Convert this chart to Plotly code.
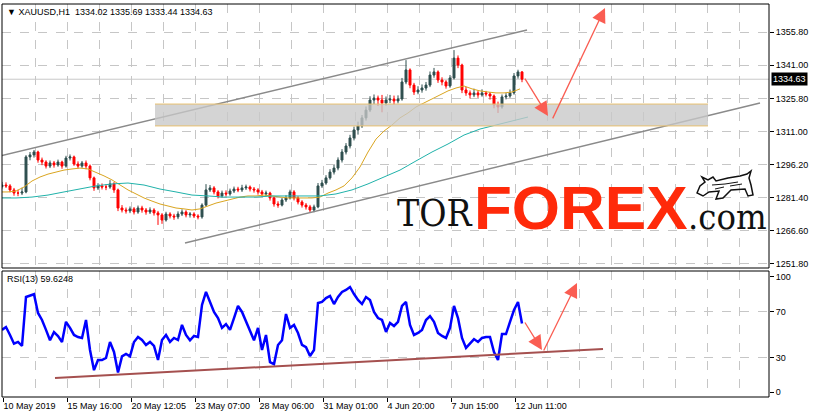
import plotly.graph_objects as go

# ---------------- data ----------------
x_labels = ["10 May 2019", "15 May 16:00", "20 May 12:05", "23 May 07:00", "28 May 06:00",
            "31 May 01:00", "4 Jun 20:00", "7 Jun 15:00", "12 Jun 11:00"]
x_label_bars = [3, 67, 131, 195, 259, 323, 387, 451, 515]

price_ticks = [1251.8, 1266.6, 1281.4, 1296.2, 1311.0, 1325.8, 1341.0, 1355.8]
price_tick_text = ["1251.80", "1266.60", "1281.40", "1296.20", "1311.00", "1325.80", "1341.00", "1355.80"]
rsi_ticks = [0, 30, 70, 100]
rsi_levels = [30, 70]

first_open = 1286.5
close = [1287.2, 1286.8, 1285.0, 1283.6, 1283.6, 1284.1, 1299.8, 1300.7, 1302.0, 1298.4,
         1297.5, 1295.7, 1297.1, 1296.2, 1297.5, 1295.7, 1299.3, 1299.8, 1296.6, 1295.7,
         1297.1, 1295.7, 1290.4, 1285.9, 1286.8, 1286.3, 1286.3, 1287.7, 1285.0, 1276.9,
         1276.0, 1275.6, 1276.5, 1275.1, 1276.9, 1276.0, 1275.1, 1276.0, 1274.7, 1273.8,
         1271.5, 1274.2, 1273.3, 1272.9, 1274.2, 1275.1, 1273.8, 1274.2, 1273.3, 1272.9,
         1278.2, 1285.0, 1285.9, 1284.1, 1282.3, 1283.6, 1283.2, 1284.5, 1285.4, 1285.0,
         1285.9, 1286.3, 1285.4, 1285.0, 1284.1, 1283.2, 1283.6, 1281.4, 1278.7, 1278.2,
         1280.5, 1281.4, 1284.1, 1281.4, 1279.6, 1278.2, 1277.4, 1276.0, 1277.4, 1286.8,
         1288.1, 1290.4, 1293.0, 1294.8, 1298.4, 1302.0, 1304.7, 1308.3, 1311.9, 1313.7,
         1317.3, 1320.8, 1325.3, 1326.2, 1325.3, 1324.0, 1325.3, 1325.8, 1324.9, 1325.8,
         1333.4, 1338.8, 1332.0, 1328.9, 1329.8, 1330.7, 1332.0, 1336.5, 1337.9, 1334.3,
         1333.4, 1331.6, 1335.2, 1344.1, 1341.0, 1329.8, 1328.5, 1327.6, 1328.5, 1327.6,
         1328.5, 1328.0, 1327.1, 1323.1, 1322.2, 1326.7, 1327.1, 1328.5, 1336.1, 1337.9,
         1334.63]
high = [1288.6, 1288.4, 1287.6, 1285.9, 1285.1, 1286.0, 1300.6, 1302.0, 1302.9, 1302.6,
        1299.5, 1298.3, 1298.2, 1298.0, 1298.6, 1298.1, 1300.3, 1300.9, 1300.4, 1297.8,
        1298.0, 1298.2, 1296.4, 1291.0, 1288.0, 1287.9, 1287.6, 1289.4, 1288.5, 1285.6,
        1278.2, 1277.1, 1277.6, 1277.3, 1278.0, 1277.9, 1276.9, 1277.2, 1276.8, 1275.6,
        1274.6, 1275.2, 1275.0, 1274.3, 1275.4, 1276.3, 1275.9, 1275.1, 1275.0, 1274.1,
        1279.0, 1287.6, 1287.2, 1286.7, 1284.9, 1284.7, 1284.8, 1285.6, 1286.5, 1286.4,
        1287.3, 1287.4, 1287.0, 1286.3, 1285.8, 1285.0, 1284.7, 1284.2, 1282.0, 1279.9,
        1281.6, 1282.6, 1285.1, 1284.9, 1282.2, 1280.4, 1279.1, 1278.3, 1278.4, 1288.1,
        1289.5, 1291.6, 1294.3, 1296.2, 1299.6, 1303.3, 1306.0, 1309.7, 1313.4, 1315.6,
        1318.6, 1322.4, 1327.0, 1327.8, 1327.3, 1327.6, 1326.9, 1327.6, 1327.3, 1327.4,
        1335.2, 1343.2, 1339.5, 1333.0, 1331.5, 1332.3, 1333.4, 1338.1, 1339.7, 1338.6,
        1335.5, 1334.2, 1336.5, 1347.7, 1345.3, 1341.6, 1331.2, 1329.6, 1330.4, 1329.7,
        1330.1, 1329.4, 1328.9, 1327.8, 1324.6, 1327.8, 1328.4, 1330.0, 1337.4, 1338.9,
        1338.3]
low = [1285.6, 1285.9, 1283.9, 1282.4, 1282.2, 1282.7, 1283.5, 1298.3, 1299.5, 1297.2,
       1296.1, 1294.6, 1294.8, 1295.0, 1295.4, 1294.5, 1295.0, 1298.2, 1295.8, 1294.6,
       1294.9, 1294.3, 1289.3, 1284.6, 1285.0, 1285.2, 1284.9, 1285.5, 1283.7, 1275.5,
       1274.9, 1274.4, 1274.6, 1274.0, 1274.3, 1274.8, 1273.9, 1274.2, 1273.5, 1269.3,
       1269.8, 1270.8, 1272.2, 1271.6, 1271.9, 1273.3, 1272.7, 1272.6, 1272.4, 1271.8,
       1272.1, 1277.5, 1284.1, 1283.0, 1281.2, 1281.6, 1282.0, 1282.4, 1283.6, 1284.0,
       1284.1, 1285.0, 1284.3, 1283.8, 1282.9, 1282.0, 1282.1, 1280.2, 1277.5, 1277.0,
       1277.6, 1279.6, 1280.7, 1280.3, 1278.5, 1277.1, 1276.2, 1275.0, 1275.0, 1276.8,
       1285.9, 1287.3, 1289.6, 1291.9, 1293.8, 1297.3, 1300.9, 1303.6, 1307.2, 1309.8,
       1312.8, 1316.1, 1319.9, 1323.5, 1322.6, 1319.8, 1322.8, 1323.9, 1323.2, 1323.8,
       1325.0, 1332.4, 1330.6, 1327.6, 1327.9, 1328.6, 1329.5, 1331.1, 1335.3, 1333.0,
       1331.9, 1330.4, 1330.8, 1334.5, 1339.6, 1328.4, 1327.2, 1326.0, 1326.6, 1326.3,
       1326.8, 1326.9, 1325.5, 1321.6, 1319.5, 1321.4, 1325.6, 1326.3, 1327.7, 1334.9,
       1333.3]

ma_fast_bars = [0, 8, 16, 24, 32, 40, 48, 56, 64, 72, 80, 88, 96, 104, 112, 120, 128, 136, 144, 152,
                160, 168, 176, 184, 192, 200, 208, 216, 224, 232, 240, 248, 256, 264, 272, 280, 288,
                296, 304, 312, 320, 328, 336, 344, 352, 360, 368, 376, 384, 392, 400, 408, 416, 424,
                432, 440, 448, 456, 464, 472, 480, 488, 496, 504, 512, 520]
ma_fast = [1284.1, 1284.1, 1284.5, 1286.3, 1289.0, 1290.8, 1292.1, 1293.0, 1293.9, 1294.4, 1294.8,
           1294.4, 1293.0, 1291.3, 1289.5, 1287.2, 1285.0, 1283.2, 1281.4, 1280.0, 1278.7, 1277.8,
           1276.9, 1276.5, 1276.0, 1276.5, 1277.8, 1279.1, 1280.0, 1280.9, 1281.8, 1282.3, 1282.3,
           1282.7, 1282.3, 1281.8, 1281.4, 1281.4, 1281.4, 1281.4, 1281.8, 1283.6, 1285.0, 1286.8,
           1290.4, 1295.3, 1302.0, 1307.8, 1311.4, 1314.1, 1317.3, 1319.5, 1322.2, 1324.0, 1325.8,
           1327.6, 1329.4, 1330.7, 1331.6, 1330.3, 1329.4, 1328.9, 1328.5, 1328.5, 1328.9, 1330.3]

ma_slow_bars = [0, 16, 32, 48, 64, 80, 96, 112, 128, 144, 160, 176, 192, 208, 224, 240, 256, 272,
                288, 304, 320, 336, 352, 368, 384, 400, 416, 432, 448, 464, 480, 496, 512, 528]
ma_slow = [1281.4, 1281.4, 1281.8, 1282.7, 1284.1, 1285.4, 1286.8, 1287.7, 1288.1, 1287.2, 1285.4,
           1284.1, 1282.7, 1282.3, 1281.8, 1281.8, 1281.8, 1282.3, 1282.3, 1282.3, 1282.3, 1283.2,
           1285.0, 1287.7, 1290.8, 1293.9, 1298.0, 1302.0, 1305.6, 1309.6, 1312.3, 1314.1, 1315.9,
           1317.7]

rsi = [54.0, 56.5, 49.6, 42.0, 43.5, 40.0, 82.6, 83.5, 85.0, 68.7, 62.6, 54.0, 45.0, 52.0, 48.7,
       43.5, 61.0, 55.7, 49.6, 47.8, 47.0, 62.6, 36.5, 19.0, 27.8, 27.8, 29.6, 43.5, 34.8, 17.0,
       31.0, 33.0, 31.0, 43.5, 47.8, 45.2, 40.9, 43.5, 40.0, 27.8, 45.2, 49.6, 43.5, 47.0, 45.2,
       58.3, 49.6, 45.0, 48.7, 47.8, 75.7, 87.0, 77.4, 69.6, 64.3, 55.7, 59.0, 54.0, 64.3, 74.8,
       69.6, 61.0, 54.0, 45.0, 55.7, 36.5, 49.6, 26.0, 24.3, 40.9, 45.0, 67.8, 55.7, 58.3, 51.3,
       40.9, 39.0, 31.3, 36.5, 77.4, 78.3, 81.7, 83.5, 76.5, 82.6, 87.0, 88.7, 91.3, 85.2, 80.0,
       76.5, 82.6, 80.0, 69.6, 64.3, 62.6, 52.2, 60.0, 57.4, 61.0, 74.8, 78.3, 58.3, 49.6, 51.3,
       53.9, 62.6, 66.0, 61.0, 51.3, 48.7, 47.0, 55.7, 74.8, 64.3, 47.0, 38.3, 41.7, 46.0, 43.5,
       47.0, 47.8, 47.8, 34.8, 27.8, 50.4, 50.4, 61.0, 71.3, 78.3, 59.62]

# drawn analysis objects (bar position, value)
upper_channel = [(0, 1300.2), (527, 1356.7)]
lower_channel = [(185, 1261.2), (760, 1324.0)]
zone_bars = [155, 708]
zone_prices = [1313.7, 1323.5]
forecast_price = [(524, 1335.6), (548, 1318.1), (552, 1316.4), (605, 1366.6)]
rsi_trend = [(55, 12.2), (603, 37.4)]
forecast_rsi = [(524, 61.7), (542, 36.5), (543, 34.8), (577, 94.8)]
last_price = 1334.63
header = "▼ XAUUSD,H1  1334.02 1335.69 1333.44 1334.63"
rsi_label = "RSI(13) 59.6248"

# ---------------- figure ----------------
bar_x = [4 * i + 2 for i in range(len(close))]
opens = [first_open] + close[:-1]

Y_TOP, Y_BOT = 1368.36, 1250.0
R_TOP, R_BOT = 105.2, -4.35
def py(ypix):  # pixel row in top panel -> price
    return Y_TOP - (ypix - 4) * (Y_TOP - Y_BOT) / 264.0

FONT = "Liberation Sans, Arial, sans-serif"
GRID = "#c6c6c6"

fig = go.Figure()
fig.add_trace(go.Candlestick(
    x=bar_x, open=opens, high=high, low=low, close=close,
    increasing=dict(line=dict(color="#2f4f4f", width=1), fillcolor="#2f4f4f"),
    decreasing=dict(line=dict(color="#ff0000", width=1), fillcolor="#ff0000"),
    whiskerwidth=0, xaxis="x", yaxis="y", hoverinfo="skip", showlegend=False))
fig.add_trace(go.Scatter(x=ma_fast_bars, y=ma_fast, mode="lines",
                         line=dict(color="#daa520", width=1), xaxis="x", yaxis="y"))
fig.add_trace(go.Scatter(x=ma_slow_bars, y=ma_slow, mode="lines",
                         line=dict(color="#20b2aa", width=1), xaxis="x", yaxis="y"))
fig.add_trace(go.Scatter(x=bar_x, y=rsi, mode="lines",
                         line=dict(color="#0000ff", width=2.5), xaxis="x", yaxis="y2"))

minor_grid = [v for v in range(3, 770, 32) if v not in x_label_bars]

fig.update_layout(
    width=815, height=419, margin=dict(l=2, r=46, t=4, b=22),
    paper_bgcolor="white", plot_bgcolor="white", showlegend=False,
    font=dict(family=FONT, size=9, color="black"),
    xaxis=dict(range=[2, 769], domain=[0, 1], anchor="y2",
               tickmode="array", tickvals=x_label_bars, ticktext=x_labels,
               ticks="outside", ticklen=4, tickcolor="black", ticklabelposition="outside right",
               showgrid=True, gridcolor=GRID, griddash="dash", gridwidth=1,
               minor=dict(tickmode="array", tickvals=minor_grid, showgrid=True,
                          gridcolor=GRID, griddash="dash", ticks=""),
               rangeslider=dict(visible=False), zeroline=False, showline=False,
               tickfont=dict(family=FONT, size=9, color="black")),
    yaxis=dict(domain=[129 / 393, 1], range=[Y_BOT, Y_TOP], side="right", anchor="x",
               tickmode="array", tickvals=price_ticks, ticktext=price_tick_text,
               ticks="outside", ticklen=4, tickcolor="black",
               showgrid=True, gridcolor=GRID, griddash="dash", zeroline=False,
               tickfont=dict(family=FONT, size=9, color="black")),
    yaxis2=dict(domain=[0, 126 / 393], range=[R_BOT, R_TOP], side="right", anchor="x",
                tickmode="array", tickvals=rsi_ticks, ticktext=[str(v) for v in rsi_ticks],
                ticks="outside", ticklen=4, tickcolor="black",
                showgrid=False, zeroline=False,
                tickfont=dict(family=FONT, size=9, color="black")),
)

shapes = []
# bid line
shapes.append(dict(type="line", xref="x domain", yref="y", x0=0, x1=1, y0=last_price, y1=last_price,
                   line=dict(color="#c8c8c8", width=1), layer="below"))
# rsi level grid
for lv in rsi_levels:
    shapes.append(dict(type="line", xref="x domain", yref="y2", x0=0, x1=1, y0=lv, y1=lv,
                       line=dict(color=GRID, width=1, dash="dash"), layer="below"))
# channel lines
for seg in (upper_channel, lower_channel):
    shapes.append(dict(type="line", xref="x", yref="y", x0=seg[0][0], y0=seg[0][1],
                       x1=seg[1][0], y1=seg[1][1], line=dict(color="#8a8a8a", width=1.5), layer="above"))
# support zone
shapes.append(dict(type="rect", xref="x", yref="y", x0=zone_bars[0], x1=zone_bars[1],
                   y0=zone_prices[0], y1=zone_prices[1], fillcolor="rgba(200,200,200,0.78)",
                   line=dict(width=0), layer="above"))
for zp in zone_prices:
    shapes.append(dict(type="line", xref="x", yref="y", x0=zone_bars[0], x1=zone_bars[1],
                       y0=zp, y1=zp, line=dict(color="#e8c070", width=1), layer="above"))
# rsi trend line
shapes.append(dict(type="line", xref="x", yref="y2", x0=rsi_trend[0][0], y0=rsi_trend[0][1],
                   x1=rsi_trend[1][0], y1=rsi_trend[1][1], line=dict(color="#a5504f", width=2),
                   layer="above"))
# panel frames
shapes.append(dict(type="rect", xref="paper", yref="paper", x0=0, x1=1, y0=129 / 393, y1=1,
                   line=dict(color="black", width=1), fillcolor="rgba(0,0,0,0)"))
shapes.append(dict(type="rect", xref="paper", yref="paper", x0=0, x1=1, y0=0, y1=126 / 393,
                   line=dict(color="black", width=1), fillcolor="rgba(0,0,0,0)"))

# bull sketch of the logo (pixel outline)
bull = [(697, 193), (700, 186), (705, 182), (702, 177), (708, 180), (713, 177), (716, 181),
        (728, 178), (740, 176), (747, 174), (751, 171), (749, 178), (751, 185), (753, 195),
        (748, 196), (745, 189), (731, 190), (723, 198), (716, 199), (719, 191), (709, 192),
        (703, 196)]
path = "M " + " L ".join(f"{bx},{py(by)}" for bx, by in bull) + " Z"
shapes.append(dict(type="path", xref="x", yref="y", path=path,
                   line=dict(color="#111111", width=1.5), fillcolor="rgba(0,0,0,0)"))
inner = [[(712, 185), (725, 184), (738, 182)], [(730, 186), (742, 184)], [(715, 189), (724, 187)]]
for seg in inner:
    p = "M " + " L ".join(f"{bx},{py(by)}" for bx, by in seg)
    shapes.append(dict(type="path", xref="x", yref="y", path=p,
                       line=dict(color="#111111", width=1)))
fig.update_layout(shapes=shapes)

ann = []
ARROW = "#fa5d52"
for pts, yr in ((forecast_price, "y"), (forecast_rsi, "y2")):
    for k in (0, 2):
        ann.append(dict(x=pts[k + 1][0], y=pts[k + 1][1], ax=pts[k][0], ay=pts[k][1],
                        xref="x", yref=yr, axref="x", ayref=yr, text="", showarrow=True,
                        arrowhead=2, arrowsize=2.2, arrowwidth=1.3, arrowcolor=ARROW))
ann.append(dict(x=0, y=1, xref="paper", yref="paper", xanchor="left", yanchor="top",
                xshift=3, yshift=-1, text=header, showarrow=False,
                font=dict(family=FONT, size=9, color="black")))
ann.append(dict(x=0, y=126 / 393, xref="paper", yref="paper", xanchor="left", yanchor="top",
                xshift=3, yshift=-1, text=rsi_label, showarrow=False,
                font=dict(family=FONT, size=9, color="black")))
ann.append(dict(x=1, y=last_price, xref="paper", yref="y", xanchor="left", yanchor="middle",
                xshift=2, text=f"{last_price:.2f}", showarrow=False, bgcolor="black",
                borderpad=1, font=dict(family=FONT, size=9, color="white")))
# logo
ann.append(dict(x=395, y=py(213), xref="x", yref="y", xanchor="left", yanchor="middle",
                text="TOR", showarrow=False,
                font=dict(family="DejaVu Serif Condensed, DejaVu Serif", size=37, color="#111111")))
ann.append(dict(x=472, y=py(207), xref="x", yref="y", xanchor="left", yanchor="middle",
                text="<b>FOREX</b>", showarrow=False,
                font=dict(family="Liberation Sans, Arial", size=62, color="#ff2a0a")))
ann.append(dict(x=686, y=py(216), xref="x", yref="y", xanchor="left", yanchor="middle",
                text=".com", showarrow=False,
                font=dict(family="DejaVu Serif Condensed, DejaVu Serif", size=36, color="#111111")))
fig.update_layout(annotations=ann)

fig.write_html("out.html")
